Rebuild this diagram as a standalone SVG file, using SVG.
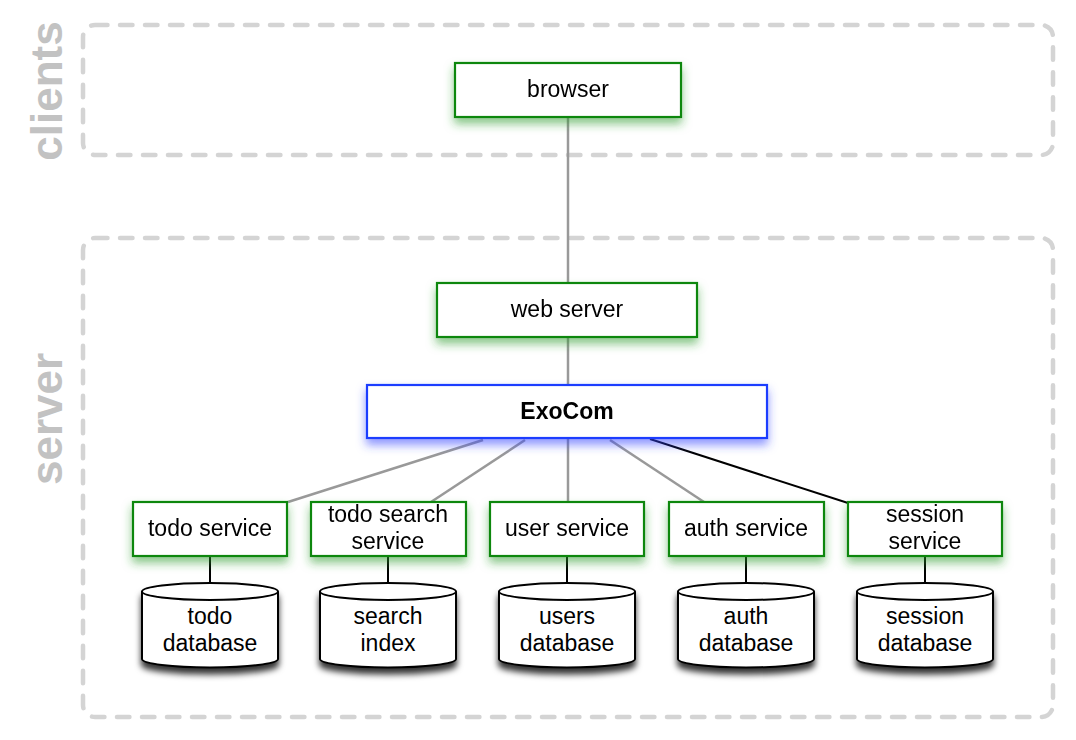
<svg xmlns="http://www.w3.org/2000/svg" width="1076" height="740" viewBox="0 0 1076 740">
<defs>
<style>
.grp{fill:none;stroke:#d4d4d4;stroke-width:4.5;stroke-dasharray:12.5 12.5;stroke-linecap:round}
.lbl{font-family:"Liberation Sans",Arial,Helvetica,sans-serif;font-weight:bold;font-size:44px;fill:#c2c2c2}
.box{fill:#fff;stroke:#0a870a;stroke-width:2.2}
.hub{fill:#fff;stroke:#1a3cff;stroke-width:2.2}
.db{fill:#fff;stroke:#000;stroke-width:2}
.t{font-family:"Liberation Sans",Arial,Helvetica,sans-serif;font-size:23px;fill:#000;text-anchor:middle}
.tb{font-weight:bold}
.gray{stroke:#999;stroke-width:2.5;fill:none}
.blk{stroke:#000;stroke-width:2;fill:none}
</style>
<filter id="gg" x="-20%" y="-30%" width="140%" height="190%">
<feGaussianBlur in="SourceAlpha" stdDeviation="5"/>
<feOffset dy="6" result="b"/>
<feFlood flood-color="#2a9a2a" flood-opacity="0.55"/>
<feComposite in2="b" operator="in"/>
<feMerge><feMergeNode/><feMergeNode in="SourceGraphic"/></feMerge>
</filter>
<filter id="bg" x="-20%" y="-30%" width="140%" height="190%">
<feGaussianBlur in="SourceAlpha" stdDeviation="5"/>
<feOffset dy="6" result="b"/>
<feFlood flood-color="#3344ff" flood-opacity="0.55"/>
<feComposite in2="b" operator="in"/>
<feMerge><feMergeNode/><feMergeNode in="SourceGraphic"/></feMerge>
</filter>
<filter id="ds" x="-20%" y="-20%" width="140%" height="160%">
<feGaussianBlur in="SourceAlpha" stdDeviation="3"/>
<feOffset dy="6" result="b"/>
<feFlood flood-color="#000" flood-opacity="0.8"/>
<feComposite in2="b" operator="in"/>
<feMerge><feMergeNode/><feMergeNode in="SourceGraphic"/></feMerge>
</filter>
<path id="cyl" d="M-68,-67.5 L-68,0 A68,8.5 0 0 0 68,0 L68,-67.5 A68,8.5 0 0 0 -68,-67.5 Z M-68,-67.5 A68,8.5 0 0 0 68,-67.5"/>
</defs>

<g id="clients-group">
<rect class="grp" x="83" y="25" width="970" height="130" rx="12"/>
<text class="lbl" transform="translate(62,91) rotate(-90)" text-anchor="middle">clients</text>
</g>
<g id="server-group">
<rect class="grp" x="83" y="238" width="970" height="479" rx="12"/>
<text class="lbl" transform="translate(62,419) rotate(-90)" text-anchor="middle">server</text>
</g>

<g id="connectors">
<line class="gray" x1="568" y1="117" x2="568" y2="283"/>
<line class="gray" x1="568" y1="337" x2="568" y2="385"/>
<line class="gray" x1="483" y1="440" x2="288" y2="502"/>
<line class="gray" x1="525" y1="440" x2="431" y2="502"/>
<line class="gray" x1="568" y1="439" x2="568" y2="502"/>
<line class="gray" x1="610" y1="440" x2="704" y2="502"/>
<line class="blk" x1="650" y1="439" x2="848" y2="503"/>
<line class="blk" x1="210" y1="556" x2="210" y2="585"/>
<line class="blk" x1="388" y1="556" x2="388" y2="585"/>
<line class="blk" x1="567" y1="556" x2="567" y2="585"/>
<line class="blk" x1="746" y1="556" x2="746" y2="585"/>
<line class="blk" x1="925" y1="556" x2="925" y2="585"/>
</g>

<g id="browser" filter="url(#gg)">
<rect class="box" x="455" y="63" width="226" height="54"/>
<text class="t" x="568" y="97">browser</text>
</g>
<g id="web-server" filter="url(#gg)">
<rect class="box" x="437" y="283" width="260" height="54"/>
<text class="t" x="567" y="317">web server</text>
</g>
<g id="exocom" filter="url(#bg)">
<rect class="hub" x="367" y="385" width="400" height="53"/>
<text class="t tb" x="567" y="419">ExoCom</text>
</g>

<g id="todo-service" filter="url(#gg)">
<rect class="box" x="133" y="502" width="154" height="54"/>
<text class="t" x="210" y="536">todo service</text>
</g>
<g id="todo-search-service" filter="url(#gg)">
<rect class="box" x="311" y="502" width="155" height="54"/>
<text class="t" x="388" y="522">todo search</text>
<text class="t" x="388" y="549">service</text>
</g>
<g id="user-service" filter="url(#gg)">
<rect class="box" x="490" y="502" width="154" height="54"/>
<text class="t" x="567" y="536">user service</text>
</g>
<g id="auth-service" filter="url(#gg)">
<rect class="box" x="669" y="502" width="155" height="54"/>
<text class="t" x="746" y="536">auth service</text>
</g>
<g id="session-service" filter="url(#gg)">
<rect class="box" x="848" y="502" width="154" height="54"/>
<text class="t" x="925" y="522">session</text>
<text class="t" x="925" y="549">service</text>
</g>

<g id="todo-database">
<use href="#cyl" class="db" filter="url(#ds)" transform="translate(210,659)"/>
<text class="t" x="210" y="624">todo</text>
<text class="t" x="210" y="651">database</text>
</g>
<g id="search-index">
<use href="#cyl" class="db" filter="url(#ds)" transform="translate(388,659)"/>
<text class="t" x="388" y="624">search</text>
<text class="t" x="388" y="651">index</text>
</g>
<g id="users-database">
<use href="#cyl" class="db" filter="url(#ds)" transform="translate(567,659)"/>
<text class="t" x="567" y="624">users</text>
<text class="t" x="567" y="651">database</text>
</g>
<g id="auth-database">
<use href="#cyl" class="db" filter="url(#ds)" transform="translate(746,659)"/>
<text class="t" x="746" y="624">auth</text>
<text class="t" x="746" y="651">database</text>
</g>
<g id="session-database">
<use href="#cyl" class="db" filter="url(#ds)" transform="translate(925,659)"/>
<text class="t" x="925" y="624">session</text>
<text class="t" x="925" y="651">database</text>
</g>
</svg>
